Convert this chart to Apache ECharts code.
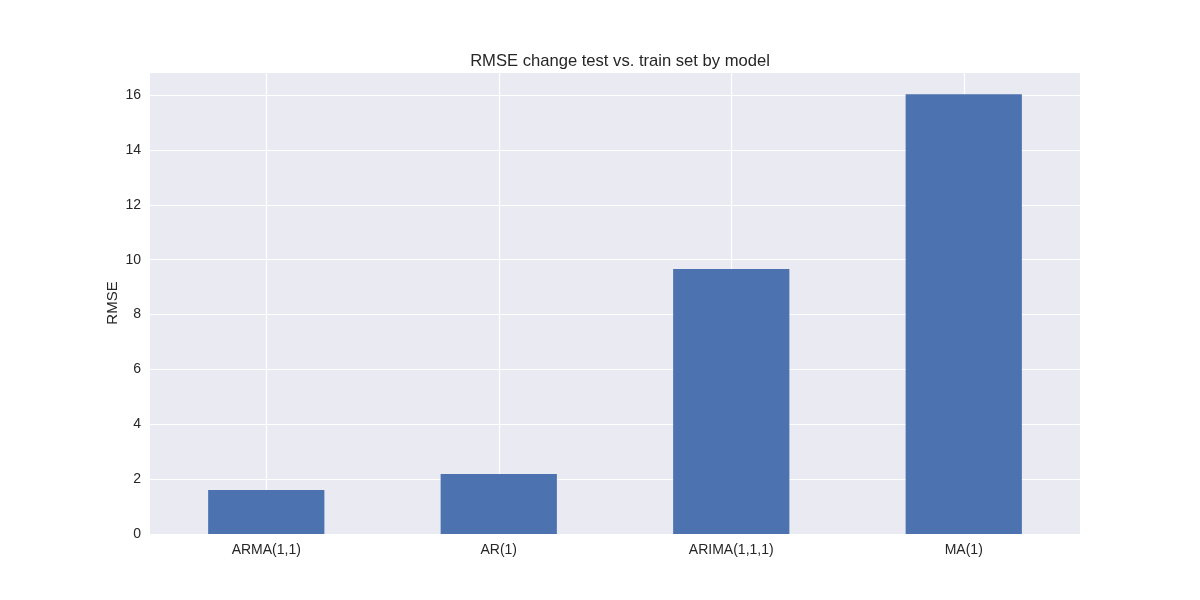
<!DOCTYPE html>
<html><head><meta charset="utf-8">
<script src="https://cdn.jsdelivr.net/npm/echarts@6/dist/echarts.min.js"></script>
<style>html,body{margin:0;padding:0;background:#fff}#c{width:1200px;height:600px}</style>
</head><body><div id="c"></div>
<script>
const categories = ['ARMA(1,1)', 'AR(1)', 'ARIMA(1,1,1)', 'MA(1)'];
const rmseValues = [1.60, 2.19, 9.66, 16.03];
const yMax = 16.84;

const chart = echarts.init(document.getElementById('c'));
const font = 'Liberation Sans, Arial, sans-serif';
chart.setOption({
  animation: false,
  title: {
    text: 'RMSE change test vs. train set by model',
    left: 615, top: 48, textAlign: 'center',
    textStyle: {fontFamily: font, fontSize: 16.6, fontWeight: 'normal', color: '#262626'}
  },
  grid: {left: 150, right: 120, top: 72, bottom: 66, show: true, backgroundColor: '#EAEAF2', borderWidth: 0},
  xAxis: {
    type: 'category', data: categories,
    axisLine: {show: false}, axisTick: {show: false, alignWithLabel: true},
    axisLabel: {fontFamily: font, fontSize: 14, color: '#262626', margin: 9},
    splitLine: {show: true, alignWithLabel: true, lineStyle: {color: '#ffffff', width: 1.2}}
  },
  yAxis: {
    type: 'value', min: 0, max: yMax, interval: 2,
    name: 'RMSE', nameLocation: 'middle', nameGap: 30, nameRotate: 90, nameMoveOverlap: false,
    nameTextStyle: {fontFamily: font, fontSize: 15, color: '#262626'},
    axisLine: {show: false}, axisTick: {show: false},
    axisLabel: {fontFamily: font, fontSize: 14, color: '#262626', margin: 9, showMaxLabel: false},
    splitLine: {show: true, lineStyle: {color: '#ffffff', width: 1.2}}
  },
  series: [{
    type: 'bar', data: rmseValues, barWidth: '50%',
    itemStyle: {color: '#4C72B0'}
  }]
});
</script></body></html>
